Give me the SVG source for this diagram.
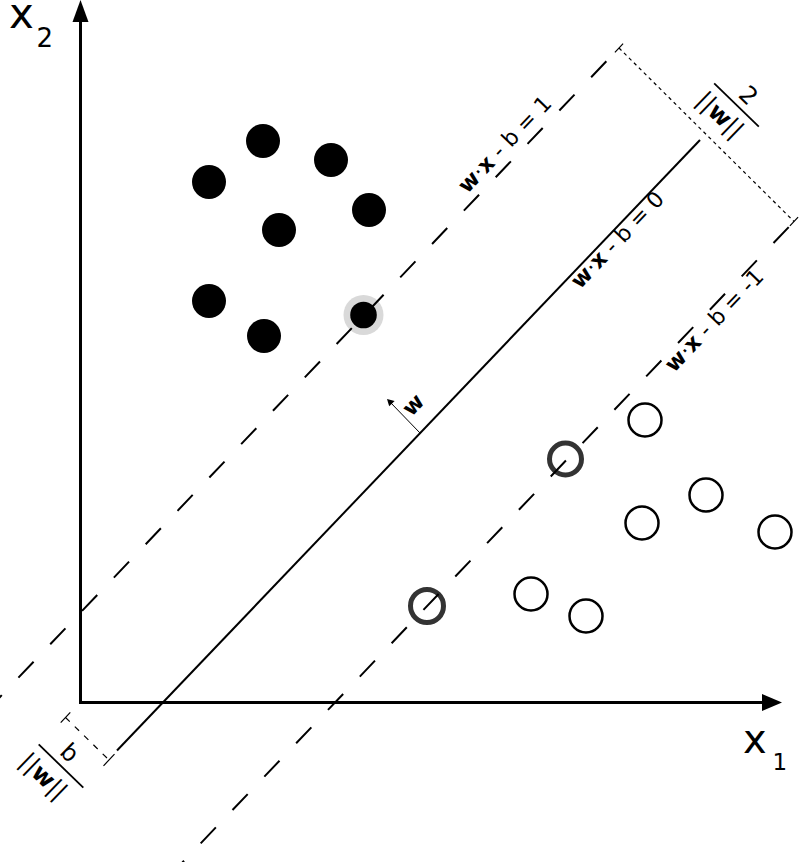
<svg xmlns="http://www.w3.org/2000/svg" width="800" height="862" viewBox="0 0 800 862">
<style>
text{font-family:"DejaVu Sans","Liberation Sans",sans-serif;fill:#000}
.lbl{font-size:22px}
.frac{font-size:24px}
.b{font-weight:bold}
.dash{fill:none;stroke:#000;stroke-width:2;stroke-dasharray:22 24.1}
.solid{fill:none;stroke:#000;stroke-width:2}
.pos{fill:#000}
.neg{fill:#fff;stroke:#000;stroke-width:2.5}
.sv{fill:none;stroke:#333;stroke-width:5}
.meas{fill:none;stroke:#000;stroke-width:1.2}
</style>
<rect width="800" height="862" fill="#fff"/>
<g id="axes">
<path d="M80.5,20 V702.5 H764" fill="none" stroke="#000" stroke-width="3"/>
<polygon points="80.5,0 72.5,22 88.5,22" fill="#000"/>
<polygon points="782,702.5 762,694 762,711" fill="#000"/>
<text x="9" y="28" font-size="42">x</text>
<text x="36.5" y="47" font-size="26">2</text>
<text x="743" y="753.3" font-size="40">x</text>
<text x="772.5" y="770" font-size="23">1</text>
</g>
<g id="class-positive">
<circle cx="363.5" cy="315" r="20" fill="#d9d9d9"/>
<circle class="pos" cx="263" cy="141" r="17"/>
<circle class="pos" cx="331" cy="160" r="17"/>
<circle class="pos" cx="209" cy="182" r="17"/>
<circle class="pos" cx="369" cy="210" r="17"/>
<circle class="pos" cx="279" cy="230" r="17"/>
<circle class="pos" cx="209" cy="301" r="17"/>
<circle class="pos" cx="264" cy="336" r="17"/>
<circle class="pos" cx="363.5" cy="315" r="13.3"/>
</g>
<g id="class-negative">
<circle class="neg" cx="645" cy="420" r="16.5"/>
<circle class="neg" cx="706" cy="495" r="16.5"/>
<circle class="neg" cx="642" cy="523" r="16.5"/>
<circle class="neg" cx="775" cy="532" r="16.5"/>
<circle class="neg" cx="531" cy="594" r="16.5"/>
<circle class="neg" cx="586" cy="616" r="16.5"/>
<circle class="sv" cx="565.5" cy="459" r="16"/>
<circle class="sv" cx="427" cy="606" r="16.5"/>
</g>
<g id="lines">
<path class="dash" d="M-13.4,711 L619,48"/>
<path class="dash" d="M168.85,876.7 L794,221.5"/>
<path class="solid" d="M117,750.5 L700,140"/>
<line x1="420" y1="433" x2="390" y2="402" stroke="#000" stroke-width="1"/>
<polygon points="387,399 389.2,406.2 394.6,401" fill="#000"/>
</g>
<g id="margin-measure">
<path class="meas" d="M619,48 L794,221.5" stroke-dasharray="3.5 3.5"/>
<path class="meas" d="M614.9,52.3 L623.1,43.7 M789.9,225.8 L798.1,217.2"/>
<g transform="translate(736.5,105) rotate(44)">
<line x1="-31" y1="0" x2="31" y2="0" stroke="#000" stroke-width="1.8"/>
<text class="frac" x="2" y="-7" text-anchor="middle">2</text>
<text class="frac" x="-5" y="26.5" text-anchor="middle">||<tspan class="b">w</tspan>||</text>
</g>
</g>
<g id="offset-measure">
<path class="meas" d="M65.5,717.5 L109,760" stroke-dasharray="6 7" stroke-width="1.6"/>
<path class="meas" d="M60.7,722.6 L70.3,712.4 M103.5,765.8 L114.5,754.2" stroke-width="1.6"/>
<g transform="translate(61,766) rotate(44)">
<line x1="-31" y1="0" x2="31" y2="0" stroke="#000" stroke-width="1.8"/>
<text class="frac" x="-3" y="-7.5" text-anchor="middle">b</text>
<text class="frac" x="-5.5" y="27.5" text-anchor="middle">||<tspan class="b">w</tspan>||</text>
</g>
</g>
<g id="labels">
<text class="lbl" transform="translate(467.3,194.2) rotate(-46.34)"><tspan class="b">w</tspan>·<tspan class="b">x</tspan> - b = 1</text>
<text class="lbl" transform="translate(580,289.8) rotate(-46.34)"><tspan class="b">w</tspan>·<tspan class="b">x</tspan> - b = 0</text>
<text class="lbl" transform="translate(674,373.2) rotate(-46.34)"><tspan class="b">w</tspan>·<tspan class="b">x</tspan> - b = -1</text>
<text class="lbl b" transform="translate(411.5,417.3) rotate(-46.34)">w</text>
</g>
</svg>
